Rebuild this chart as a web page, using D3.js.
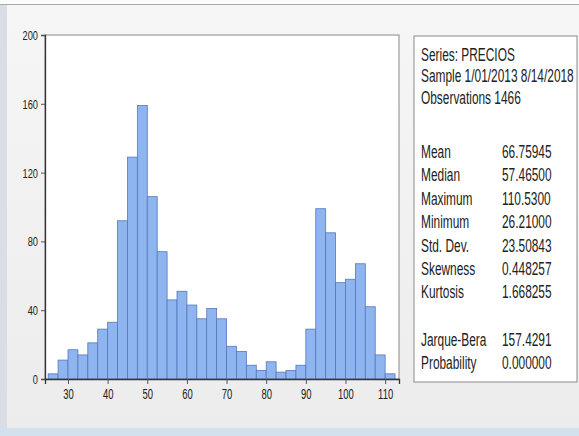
<!DOCTYPE html>
<html>
<head>
<meta charset="utf-8">
<script src="https://cdn.jsdelivr.net/npm/d3@7"></script>
<style>
  body { margin: 0; background: #f1f1f1; }
  svg text { font-family: "Liberation Sans", Arial, sans-serif; fill: #222; }
</style>
</head>
<body>
<script>
  // histogram bins, width 2.5, starting at 25
  var binStart = 25, binWidth = 2.5;
  var counts = [3, 11, 17, 14, 21, 29, 33, 92, 129, 159, 106, 74, 46, 51, 43, 35, 41, 35,
                19, 16, 8, 5, 10, 4, 5, 8, 29, 99, 85, 56, 58, 67, 42, 14, 3];
  var yTicks = [0, 40, 80, 120, 160, 200];
  var xTicks = [30, 40, 50, 60, 70, 80, 90, 100, 110];

  var headerLines = ["Series: PRECIOS", "Sample 1/01/2013 8/14/2018", "Observations 1466"];
  var statNames  = ["Mean", "Median", "Maximum", "Minimum", "Std. Dev.", "Skewness", "Kurtosis"];
  var statValues = ["66.75945", "57.46500", "110.5300", "26.21000", "23.50843", "0.448257", "1.668255"];
  var testNames  = ["Jarque-Bera", "Probability"];
  var testValues = ["157.4291", "0.000000"];

  var width = 579, height = 436;
  var plot = {left: 45, right: 399, top: 35, bottom: 379};

  var svg = d3.select("body").append("svg")
              .attr("width", width).attr("height", height);

  //window background bits
  var grad = svg.append("defs").append("linearGradient").attr("id", "bg")
                .attr("x1", 0).attr("x2", 0).attr("y1", 0).attr("y2", 1);
  grad.append("stop").attr("offset", "0%").attr("stop-color", "#f6f6f6");
  grad.append("stop").attr("offset", "100%").attr("stop-color", "#ececec");
  svg.append("rect").attr("width", width).attr("height", height).attr("fill", "url(#bg)");
  svg.append("rect").attr("x", 0).attr("y", 0).attr("width", width).attr("height", 4).attr("fill", "#fbfbfb");
  svg.append("line").attr("x1", 0).attr("x2", width).attr("y1", 4.5).attr("y2", 4.5)
     .attr("stroke", "#a8a8a8").attr("stroke-width", 1);
  svg.append("rect").attr("x", 0).attr("y", 5).attr("width", 7).attr("height", height - 5).attr("fill", "#d9dee6");
  svg.append("rect").attr("x", 0).attr("y", 428).attr("width", width).attr("height", 8).attr("fill", "#d3e1ef");

  //scales
  var x = d3.scaleLinear().domain([24.2, 113.5]).range([plot.left, plot.right]);
  var y = d3.scaleLinear().domain([0, 200]).range([plot.bottom, plot.top]);

  svg.append("rect").attr("x", plot.left).attr("y", plot.top)
     .attr("width", plot.right - plot.left).attr("height", plot.bottom - plot.top)
     .attr("fill", "#ffffff").attr("stroke", "#8a8a8a").attr("stroke-width", 1);

  //bars
  svg.append("g").selectAll("rect").data(counts).enter().append("rect")
     .attr("x", function(d, i){ return x(binStart + i * binWidth); })
     .attr("y", function(d){ return y(d); })
     .attr("width", function(d, i){ return x(binStart + (i + 1) * binWidth) - x(binStart + i * binWidth); })
     .attr("height", function(d){ return y(0) - y(d); })
     .attr("fill", "#8fb5f1")
     .attr("stroke", "#5577bb").attr("stroke-width", 0.8);

  //axes
  var yAxis = svg.append("g").attr("transform", "translate(" + plot.left + ",0)")
                 .call(d3.axisLeft(y).tickValues(yTicks).tickSize(4).tickPadding(3));
  var xAxis = svg.append("g").attr("transform", "translate(0," + plot.bottom + ")")
                 .call(d3.axisBottom(x).tickValues(xTicks).tickSize(5).tickPadding(3));
  [yAxis, xAxis].forEach(function(a){
    a.select(".domain").attr("stroke", "#333").attr("stroke-width", 1.3);
    a.selectAll(".tick line").attr("stroke", "#555");
    a.selectAll("text").attr("font-family", null).attr("fill", "#2a2a2a");
  });
  // squeeze labels sideways like the original
  yAxis.selectAll("text").attr("font-size", 12.5).attr("dy", "0.36em")
       .attr("x", -7 / 0.74).attr("transform", "scale(0.74,1)");
  xAxis.selectAll("text").attr("font-size", 15).attr("y", 9).attr("dy", "0.71em")
       .attr("transform", "scale(0.63,1)");

  //stats box
  var box = {left: 414, top: 36, right: 577, bottom: 382};
  svg.append("rect").attr("x", box.left).attr("y", box.top)
     .attr("width", box.right - box.left).attr("height", box.bottom - box.top)
     .attr("fill", "#ffffff").attr("stroke", "#8a8a8a").attr("stroke-width", 1);

  var txt = svg.append("g").attr("font-size", 17.5);
  var addText = function(str, tx, ty){
    txt.append("text").attr("transform", "translate(" + tx + "," + ty + ") scale(0.68,1)")
       .attr("fill", "#1a1a1a").text(str);
  };
  headerLines.forEach(function(s, i){ addText(s, 421, 61 + i * 21.3); });
  statNames.forEach(function(s, i){ addText(s, 421, 158 + i * 23.4); });
  statValues.forEach(function(s, i){ addText(s, 502, 158 + i * 23.4); });
  testNames.forEach(function(s, i){ addText(s, 421, 345.5 + i * 23); });
  testValues.forEach(function(s, i){ addText(s, 502, 345.5 + i * 23); });
</script>
</body>
</html>
